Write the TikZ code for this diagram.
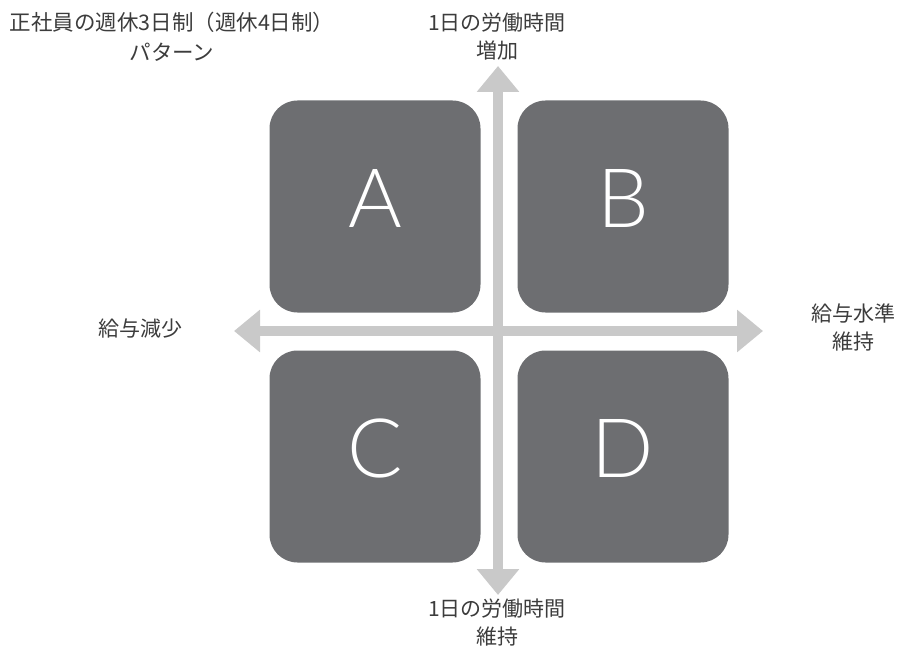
\documentclass[tikz,border=0pt]{standalone}
\usepackage{fontspec}
\usetikzlibrary{arrows.meta}
\newfontfamily\jp{Noto Sans CJK JP}
\IfFontExistsTF{Lato Light}{\newfontfamily\thinfont{Lato Light}}{\newfontfamily\thinfont{Lato}}
\definecolor{boxgray}{RGB}{109,110,113}
\definecolor{axisgray}{RGB}{201,201,201}
\definecolor{txtgray}{RGB}{60,60,60}
\tikzset{
  quad/.style={draw=none, fill=boxgray, rounded corners=28pt, minimum width=211pt, minimum height=212pt, inner sep=0pt},
  letter/.style={text=white, font=\thinfont\fontsize{82}{82}\selectfont, inner sep=0pt, anchor=base},
  axis/.style={draw=axisgray, line width=10pt, {Triangle[width=41pt,length=26pt]}-{Triangle[width=41pt,length=26pt]}, shorten <=0pt, shorten >=0pt},
  lab/.style={text=txtgray, font=\jp\fontsize{21}{28}\selectfont, align=center, inner sep=0pt}
}
\begin{document}
\begin{tikzpicture}[x=1pt,y=-1pt]
\useasboundingbox (0,0) rectangle (899,647);
% axis end points
\coordinate (top) at (498,66);
\coordinate (bot) at (498,595);
\coordinate (lft) at (234,331);
\coordinate (rgt) at (763,331);
\draw[axis] (bot) -- (top);
\draw[axis] (lft) -- (rgt);
% quadrants
\node[quad] (A) at (375,206.5) {};
\node[quad] (B) at (623,206.5) {};
\node[quad] (C) at (375,456.5) {};
\node[quad] (D) at (623,456.5) {};
\node[letter] (lA) at (375,227) {A};
\node[letter] (lB) at (623,227) {B};
\node[letter] (lC) at (375,477) {C};
\node[letter] (lD) at (623,477) {D};
% labels
\node[lab, font=\jp\fontsize{21.5}{30}\selectfont] (title) at (172,37) {正社員の週休3日制（週休4日制）\\パターン};
\node[lab] (tlab) at (497,37) {1日の労働時間\\増加};
\node[lab] (blab) at (497,623) {1日の労働時間\\維持};
\node[lab] (llab) at (140,329) {給与減少};
\node[lab] (rlab) at (853,327) {給与水準\\維持};
\end{tikzpicture}
\end{document}
